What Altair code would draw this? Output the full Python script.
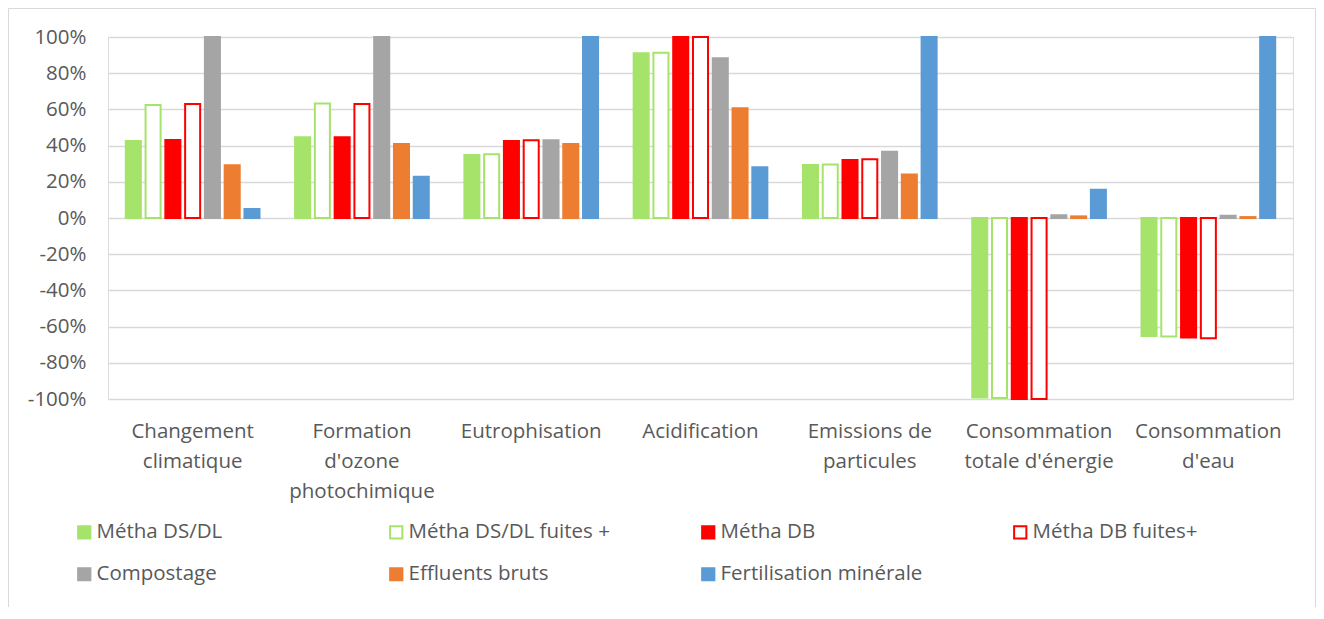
import altair as alt
import pandas as pd

categories = [
    "Changement|climatique",
    "Formation|d'ozone|photochimique",
    "Eutrophisation",
    "Acidification",
    "Emissions de|particules",
    "Consommation|totale d'énergie",
    "Consommation|d'eau",
]

series = [
    "Métha DS/DL",
    "Métha DS/DL fuites +",
    "Métha DB",
    "Métha DB fuites+",
    "Compostage",
    "Effluents bruts",
    "Fertilisation minérale",
]

metha_dsdl = [0.425, 0.446, 0.348, 0.910, 0.293, -0.992, -0.652]
metha_dsdl_fuites = [0.624, 0.632, 0.352, 0.913, 0.296, -0.995, -0.655]
metha_db = [0.431, 0.446, 0.425, 1.000, 0.320, -1.000, -0.660]
metha_db_fuites = [0.630, 0.630, 0.429, 1.000, 0.324, -1.000, -0.664]
compostage = [1.000, 1.000, 0.429, 0.882, 0.366, 0.015, 0.012]
effluents_bruts = [0.291, 0.409, 0.409, 0.606, 0.240, 0.009, 0.005]
fertilisation_minerale = [0.050, 0.228, 1.000, 0.280, 1.000, 0.156, 1.000]

fill_colors = ["#A6E36A", "#FFFFFF", "#FF0000", "#FFFFFF", "#A5A5A5", "#ED7D31", "#5B9BD5"]
stroke_colors = ["#A6E36A", "#A6E36A", "#FF0000", "#FF0000", "#A5A5A5", "#ED7D31", "#5B9BD5"]

all_values = [metha_dsdl, metha_dsdl_fuites, metha_db, metha_db_fuites,
              compostage, effluents_bruts, fertilisation_minerale]

rows = []
for s, vals in zip(series, all_values):
    for c, v in zip(categories, vals):
        rows.append({"categorie": c, "serie": s, "valeur": v})
df = pd.DataFrame(rows)

FONT = "Open Sans"
FS = 20.5
W, H = 1185, 362


def make_legend():
    return alt.Legend(title=None, orient="none", legendX=-34, legendY=485,
                      direction="horizontal", columns=4,
                      gridAlign="all", columnPadding=87, rowPadding=21,
                      symbolType="square", symbolSize=150,
                      symbolStrokeWidth=2, labelOffset=2,
                      labelFontSize=FS, labelColor="#595959",
                      labelFont=FONT, labelLimit=400, padding=0)


bars = alt.Chart(df).mark_bar(strokeWidth=2).encode(
    x=alt.X("categorie:N", sort=categories, title=None,
            scale=alt.Scale(paddingInner=0, paddingOuter=0),
            axis=alt.Axis(labelExpr="split(datum.value, '|')", labelAngle=0,
                          domain=False, ticks=False, grid=False,
                          labelPadding=22, labelLineHeight=30,
                          labelFontSize=FS, labelColor="#595959", labelFont=FONT)),
    xOffset=alt.XOffset("serie:N", sort=series,
                        scale=alt.Scale(paddingInner=0.24, paddingOuter=0.9)),
    y=alt.Y("valeur:Q", title=None,
            scale=alt.Scale(domain=[-1, 1], nice=False),
            axis=alt.Axis(values=[-1, -0.8, -0.6, -0.4, -0.2, 0, 0.2, 0.4, 0.6, 0.8, 1],
                          labelExpr="round(datum.value*100) + '%'",
                          domain=False, ticks=False, labelPadding=22,
                          gridColor="#D9D9D9", gridWidth=1.5,
                          labelFontSize=FS, labelColor="#595959", labelFont=FONT)),
    fill=alt.Fill("serie:N", sort=series,
                  scale=alt.Scale(domain=series, range=fill_colors),
                  legend=make_legend()),
    stroke=alt.Stroke("serie:N", sort=series,
                      scale=alt.Scale(domain=series, range=stroke_colors),
                      legend=make_legend()),
)

border_df = pd.DataFrame({"k": [0]})
border = alt.Chart(border_df).mark_rect(filled=False, stroke="#D9D9D9", strokeWidth=1).encode(
    x=alt.value(-99.5), x2=alt.value(W + 22.5),
    y=alt.value(-28.5), y2=alt.value(H + 300),
)

chart = alt.layer(border, bars).properties(
    width=W, height=H,
    autosize=alt.AutoSizeParams(type="none"),
    padding={"left": 100, "top": 29, "right": 23, "bottom": 208},
).configure_view(stroke=None).configure(background="white")

chart.save("out.html", embed_options={"renderer": "svg", "actions": False})
